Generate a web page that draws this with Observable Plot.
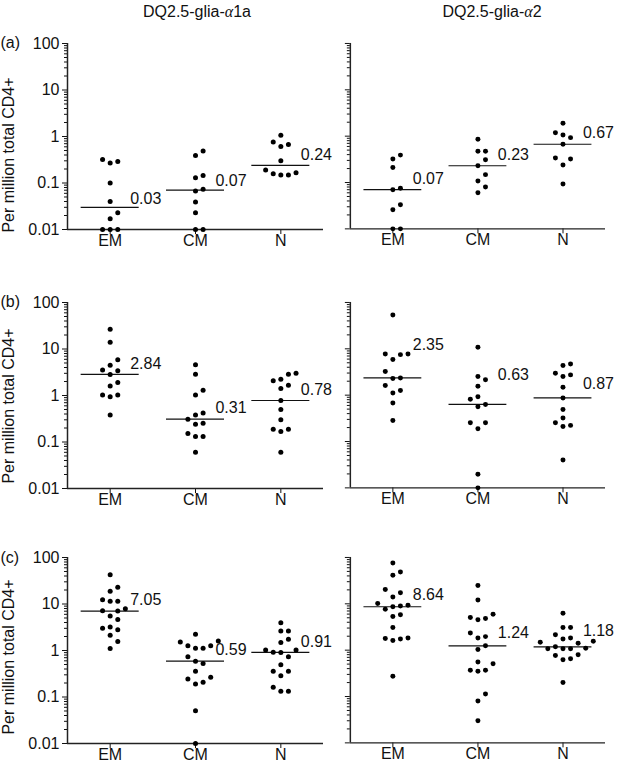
<!DOCTYPE html>
<html><head><meta charset="utf-8">
<script src="https://cdn.jsdelivr.net/npm/d3@7"></script>
<script src="https://cdn.jsdelivr.net/npm/@observablehq/plot@0.6"></script>
<style>
html,body{margin:0;padding:0;background:#fff;}
#fig{position:relative;width:617px;height:772px;overflow:hidden;font-family:"Liberation Sans",Arial,Helvetica,sans-serif;}
.panel{position:absolute;}
#overlay{position:absolute;left:0;top:0;pointer-events:none;}
</style></head><body><div id="fig"></div>
<script>
// ---------- data ----------
const categories = ["EM", "CM", "N"];
const peptides = ["DQ2.5-glia-α1a", "DQ2.5-glia-α2"];
const rowLabels = ["(a)", "(b)", "(c)"];
const yTicks = [0.01, 0.1, 1, 10, 100];
const yTickLabels = ["0.01", "0.1", "1", "10", "100"];
const yAxisTitle = "Per million total CD4+";

// row (a) – DQ2.5-glia-α1a
const a1_EM = [0.32, 0.29, 0.27, 0.10, 0.040, 0.023, 0.017, 0.01, 0.01, 0.01];
const a1_CM = [0.49, 0.39, 0.145, 0.13, 0.073, 0.067, 0.039, 0.023, 0.01, 0.01];
const a1_N  = [1.06, 0.76, 0.67, 0.61, 0.30, 0.19, 0.166, 0.158, 0.148, 0.148];
const a1_median = [0.03, 0.07, 0.24];
// row (a) – DQ2.5-glia-α2
const a2_EM = [0.39, 0.32, 0.21, 0.075, 0.07, 0.033, 0.026, 0.01, 0.01];
const a2_CM = [0.86, 0.47, 0.47, 0.31, 0.23, 0.148, 0.108, 0.080, 0.060];
const a2_N  = [1.89, 1.19, 1.06, 0.93, 0.67, 0.34, 0.32, 0.24, 0.093];
const a2_median = [0.07, 0.23, 0.67];

// row (b) – DQ2.5-glia-α1a
const b1_EM = [26.7, 14.0, 5.85, 4.49, 3.55, 3.39, 2.84, 1.90, 1.61, 1.03, 1.03, 0.94, 0.38];
const b1_CM = [4.57, 2.88, 1.30, 1.03, 0.42, 0.38, 0.31, 0.254, 0.242, 0.152, 0.131, 0.131, 0.06];
const b1_N  = [3.02, 2.88, 2.24, 2.07, 1.67, 1.41, 0.78, 0.50, 0.30, 0.189, 0.189, 0.168, 0.06];
const b1_median = [2.84, 0.31, 0.78];
// row (b) – DQ2.5-glia-α2
const b2_EM = [53.4, 7.74, 7.74, 7.49, 5.85, 3.23, 2.35, 2.30, 1.61, 1.26, 1.12, 0.68, 0.285];
const b2_CM = [10.8, 2.52, 2.14, 1.56, 0.92, 0.82, 0.63, 0.56, 0.254, 0.254, 0.189, 0.0197, 0.01];
const b2_N  = [4.72, 4.35, 2.97, 2.74, 2.52, 1.49, 0.87, 0.49, 0.32, 0.254, 0.223, 0.212, 0.04];
const b2_median = [2.35, 0.63, 0.87];

// row (c) – DQ2.5-glia-α1a
const c1_EM = [42.7, 22.9, 18.8, 12.3, 11.5, 11.5, 7.88, 7.2, 7.05, 5.5, 4.67, 3.2, 3.0, 2.81, 2.12, 1.56, 1.1];
const c1_CM = [2.23, 1.61, 1.53, 1.26, 1.26, 1.12, 1.12, 0.73, 0.59, 0.527, 0.356, 0.265, 0.244, 0.207, 0.191, 0.0507, 0.01];
const c1_N  = [3.96, 2.63, 2.63, 1.75, 1.48, 1.02, 1.02, 0.92, 0.91, 0.73, 0.494, 0.356, 0.356, 0.288, 0.162, 0.133, 0.133];
const c1_median = [7.05, 0.59, 0.91];
// row (c) – DQ2.5-glia-α2
const c2_EM = [75.7, 48.6, 41.3, 20.4, 17.3, 14.0, 10.1, 9.3, 9.0, 8.64, 7.6, 5.78, 5.32, 3.1, 1.83, 1.79, 1.75, 1.61, 0.274];
const c2_CM = [24.8, 12.1, 5.97, 5.07, 4.82, 4.52, 2.34, 1.96, 1.83, 1.24, 1.03, 0.554, 0.51, 0.368, 0.368, 0.35, 0.113, 0.080, 0.030];
const c2_N  = [6.27, 3.1, 3.1, 2.16, 1.83, 1.75, 1.56, 1.48, 1.41, 1.18, 1.10, 1.07, 1.07, 1.07, 0.795, 0.77, 0.653, 0.622, 0.20];
const c2_median = [8.64, 1.24, 1.18];

// ---------- layout ----------
const FRAME_W = 256, FRAME_H = 186;
const UNIT = FRAME_W / 3;              // px per category
const rowTop = [42.5, 301.5, 557];
const colLeft = [67, 350];
const MT = 12, MB = 30, MR = 12;
const FONT = '"Liberation Sans", Arial, Helvetica, sans-serif';

const panels = [
  {r:0, c:0, groups:[a1_EM, a1_CM, a1_N], med:a1_median},
  {r:0, c:1, groups:[a2_EM, a2_CM, a2_N], med:a2_median},
  {r:1, c:0, groups:[b1_EM, b1_CM, b1_N], med:b1_median},
  {r:1, c:1, groups:[b2_EM, b2_CM, b2_N], med:b2_median},
  {r:2, c:0, groups:[c1_EM, c1_CM, c1_N], med:c1_median},
  {r:2, c:1, groups:[c2_EM, c2_CM, c2_N], med:c2_median}
];
// annotation lifts (px above the median line) for the median value labels
const labelLift = {"1-1": [-33, -30, -14], "2-1": [-12, -13, -16], "0-0": [-8, -9, -10]};

// GraphPad-like scatter: spread points sideways when they would overlap
function swarm(vals, ci) {
  const s = 7.6, dyMin = 8, perDec = FRAME_H / 4;
  const sorted = [...vals].sort((a, b) => a - b);
  const placed = [];
  for (const v of sorted) {
    const y = perDec * Math.log10(v);
    let k = 0;
    for (let i = 0; i < 40; i++) {
      const cand = i === 0 ? 0 : (i % 2 ? (i + 1) / 2 : -i / 2);
      if (!placed.some(p => p.k === cand && Math.abs(p.y - y) < dyMin)) { k = cand; break; }
    }
    placed.push({k, y, v});
  }
  return placed.map(p => ({cat: ci, v: p.v, x: ci + p.k * s / UNIT}));
}

const minorTicks = [];
for (let e = -2; e < 2; e++) for (let m = 2; m <= 9; m++) minorTicks.push(m * Math.pow(10, e));

const fig = document.getElementById("fig");

for (const P of panels) {
  const mL = P.c === 0 ? 67 : 50;
  const points = P.groups.flatMap((g, i) => swarm(g, i));
  const lifts = labelLift[`${P.r}-${P.c}`] || [-11, -11, -11];
  const meds = P.med.map((m, i) => ({cat: i, m, label: m.toFixed(2), dy: lifts[i]}));
  const plot = Plot.plot({
    width: mL + FRAME_W + MR,
    height: MT + FRAME_H + MB,
    marginLeft: mL, marginRight: MR, marginTop: MT, marginBottom: MB,
    style: {fontFamily: FONT, fontSize: "16px", color: "#111", background: "transparent", overflow: "visible"},
    x: {type: "linear", domain: [-0.5, 2.5]},
    y: {type: "log", domain: [0.01, 100]},
    marks: [
      Plot.axisY({ticks: yTicks, tickSize: 5, tickPadding: 3, label: null,
        tickFormat: P.c === 0 ? (d => yTickLabels[yTicks.indexOf(d)]) : (() => "")}),
      Plot.axisY({ticks: minorTicks, tickSize: 3, label: null, tickFormat: () => ""}),
      Plot.axisX({ticks: [0, 1, 2], tickSize: 5, tickPadding: 0, label: null,
        tickFormat: i => categories[i]}),
      Plot.ruleX([-0.5], {y1: 0.01, y2: 100, stroke: "#222", strokeWidth: 1.5}),
      Plot.ruleY([0.01], {x1: -0.5, x2: 2.5, stroke: "#222", strokeWidth: 1.5}),
      Plot.ruleY(meds, {y: "m", x1: d => d.cat - 0.34, x2: d => d.cat + 0.34, stroke: "#111", strokeWidth: 1.2}),
      Plot.dot(points, {x: "x", y: "v", r: 2.5, fill: "#000", stroke: "none"}),
      ...meds.map(d => Plot.text([d], {x: d.cat + 0.234, y: "m", text: "label", textAnchor: "start", dy: d.dy, fill: "#111"}))
    ]
  });
  const div = document.createElement("div");
  div.className = "panel";
  div.style.left = (colLeft[P.c] - mL) + "px";
  div.style.top = (rowTop[P.r] - MT) + "px";
  div.appendChild(plot);
  fig.appendChild(div);
}

// overlay texts: column titles, row labels, y-axis titles
const svg = d3.select(fig).append("svg").attr("id", "overlay")
  .attr("width", 617).attr("height", 772)
  .style("font-family", FONT).style("font-size", "16px").attr("fill", "#111");
const titleX = [197, 492];
peptides.forEach((t, i) => {
  const [pre, post] = t.split("α");
  const tx = svg.append("text").attr("x", titleX[i]).attr("y", 16.5).attr("text-anchor", "middle");
  tx.append("tspan").text(pre);
  tx.append("tspan").attr("font-family", '"Liberation Serif", serif').attr("font-style", "italic").text("α");
  tx.append("tspan").text(post);
});
const yLabelCenter = [155, 406, 657];
rowLabels.forEach((t, r) => {
  svg.append("text").attr("x", 0.5).attr("y", rowTop[r]).attr("dy", "0.35em").text(t);
  svg.append("text").attr("transform", `translate(8,${yLabelCenter[r]}) rotate(-90)`)
    .attr("text-anchor", "middle").attr("dy", "0.35em").text(yAxisTitle);
});
</script></body></html>
